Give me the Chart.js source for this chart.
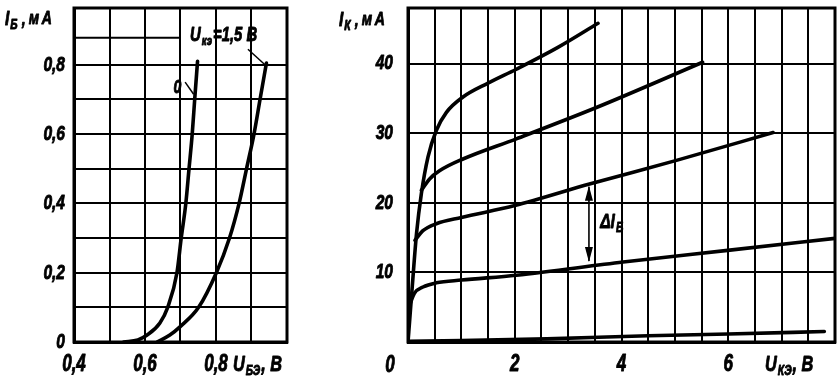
<!DOCTYPE html>
<html>
<head>
<meta charset="utf-8">
<script src="https://cdn.jsdelivr.net/npm/chart.js@4/dist/chart.umd.min.js"></script>
<style>
  html,body{margin:0;padding:0;background:#fff;}
  #wrap{position:relative;width:839px;height:381px;overflow:hidden;background:#fff;}
  #c1{position:absolute;left:0;top:0;}
  #c2{position:absolute;left:335px;top:0;}
</style>
</head>
<body>
<div id="wrap">
  <canvas id="c1" width="300" height="381"></canvas>
  <canvas id="c2" width="504" height="381"></canvas>
</div>
<script>
// ---------- Left chart: input characteristics I_Б(U_БЭ) ----------
const inX_0   = [0.54, 0.58, 0.606, 0.642, 0.664, 0.69, 0.702, 0.715, 0.724, 0.733, 0.74, 0.748];
const inY_0   = [0.0, 0.006, 0.02, 0.055, 0.1, 0.2, 0.3, 0.4, 0.5, 0.6, 0.7, 0.81];
const inX_15  = [0.634, 0.67, 0.7, 0.751, 0.801, 0.838, 0.865, 0.886, 0.907, 0.924, 0.942];
const inY_15  = [0.0, 0.02, 0.045, 0.1, 0.2, 0.3, 0.4, 0.5, 0.6, 0.7, 0.805];
const inXTicks = [0.4, 0.6, 0.8];
const inYTicks = [0, 0.2, 0.4, 0.6, 0.8];

// ---------- Right chart: output characteristics I_К(U_КЭ) ----------
const outX_a = [0, 0.03, 0.08, 0.16, 0.25, 0.375, 0.53, 0.72, 1.03, 1.5, 2.03, 2.8, 3.56];
const outY_a = [0, 3, 8, 15.6, 21.3, 26.6, 30.4, 33.0, 35.2, 37.2, 39.2, 42.3, 45.8];
const outX_b = [0.25, 0.4, 0.59, 1.03, 2.03, 3.53, 5.52];
const outY_b = [21.8, 23.4, 24.6, 26.3, 29.2, 33.7, 40.2];
const outX_c = [0.13, 0.28, 0.53, 1.0, 2.0, 3.4, 5.03, 6.84];
const outY_c = [14.6, 16.0, 17.0, 17.9, 19.6, 22.7, 26.1, 30.1];
const outX_d = [0.04, 0.12, 0.28, 0.53, 1.0, 2.03, 4.03, 6.03, 8.0];
const outY_d = [5.5, 7.0, 7.9, 8.5, 8.9, 9.6, 11.5, 13.2, 14.9];
const outX_e = [0, 1, 2.6, 4.5, 6, 7.8];
const outY_e = [0.1, 0.2, 0.45, 0.9, 1.15, 1.5];
const outXTicks = [2, 4, 6];
const outYTicks = [10, 20, 30, 40];
const deltaArrow = {x: 3.39, yTop: 22.6, yBottom: 11.35};

const SX = 0.74; // horizontal condensing of the lettering
const FONT_FAM = '"Liberation Sans", Arial, sans-serif';
const yTickFont = {family: FONT_FAM, size: 21, style: 'italic', weight: 'bold'};
const xTickFont = {family: FONT_FAM, size: 23, style: 'italic', weight: 'bold'};

// narrow, heavy lettering: every fillText on these canvases is condensed around its anchor point
function narrow(canvas){
  const ctx = canvas.getContext('2d');
  const origFill = ctx.fillText, origStroke = ctx.strokeText;
  ctx.fillText = function(t, x, y){
    this.save(); this.translate(x, y); this.scale(SX, 1);
    origFill.call(this, t, 0, 0);
    this.strokeStyle = this.fillStyle; this.lineWidth = 0.9; this.lineJoin = 'round';
    origStroke.call(this, t, 0, 0);
    this.restore();
  };
}
narrow(document.getElementById('c1'));
narrow(document.getElementById('c2'));

function pts(xs, ys){ return xs.map((x,i)=>({x:x, y:ys[i]})); }
function near(v, arr){ return arr.some(a => Math.abs(a - v) < 1e-6); }
function fmt(v){ return (Math.round(v*10)/10).toString().replace('.', ','); }

function lineDs(xs, ys){
  return {data: pts(xs, ys), borderColor:'#000', borderWidth:3.6, pointRadius:0,
          fill:false, cubicInterpolationMode:'monotone', borderCapStyle:'round', borderJoinStyle:'round'};
}

function fixScale(size, horizontal){
  return function(s){
    if (horizontal) s.height = size; else s.width = size;
    s.paddingTop = 0; s.paddingBottom = 0; s.paddingLeft = 0; s.paddingRight = 0;
  };
}

function setFont(ctx, size){ ctx.font = 'italic bold ' + size + 'px ' + FONT_FAM; }
function w(ctx, t){ return ctx.measureText(t).width * SX; }

// text with a subscript; returns end x
function textSub(ctx, x, y, main, sub, rest, big, small, gap){
  gap = gap || 2;
  setFont(ctx, big);
  ctx.fillText(main, x, y);
  x += w(ctx, main) + 1;
  if (sub){
    setFont(ctx, small);
    ctx.fillText(sub, x, y + 4);
    x += w(ctx, sub) + gap;
  }
  if (rest){
    setFont(ctx, big);
    ctx.fillText(rest, x, y);
    x += w(ctx, rest);
  }
  return x;
}

function frame(chart){
  const a = chart.chartArea, ctx = chart.ctx;
  ctx.save();
  ctx.strokeStyle = '#000'; ctx.lineWidth = 3;
  ctx.strokeRect(a.left, a.top, a.right - a.left, a.bottom - a.top);
  ctx.restore();
}

// y-axis title like "I_Б , мА"
function yTitle(ctx, x, y, sub){
  let e = textSub(ctx, x, y, 'I', sub, '', 21, 14, 0);
  setFont(ctx, 19);
  ctx.fillText(',', e + 2, y);
  ctx.fillText('м', e + 9, y - 1);
  ctx.fillText('А', e + 22, y - 1);
}

// ---------- Left chart ----------
const leftPlugin = {
  id: 'leftAnnot',
  beforeDatasetsDraw(chart){
    // short extra rule of the printed grid in the upper-left part
    const ctx = chart.ctx, xs = chart.scales.x, ys = chart.scales.y;
    ctx.save(); ctx.strokeStyle = '#000'; ctx.lineWidth = 2;
    ctx.beginPath();
    ctx.moveTo(xs.getPixelForValue(0.4), ys.getPixelForValue(0.878));
    ctx.lineTo(xs.getPixelForValue(0.7), ys.getPixelForValue(0.878));
    ctx.stroke(); ctx.restore();
  },
  afterDatasetsDraw(chart){
    const ctx = chart.ctx, xs = chart.scales.x, ys = chart.scales.y;
    frame(chart);
    ctx.save();
    ctx.fillStyle = '#000'; ctx.strokeStyle = '#000'; ctx.textBaseline = 'alphabetic'; ctx.textAlign = 'left';
    // axis titles
    yTitle(ctx, 5, 25, 'Б');
    textSub(ctx, 233, 371, 'U', 'БЭ', ', В', 22, 14, 1);
    // curve labels
    setFont(ctx, 19);
    ctx.fillText('0', xs.getPixelForValue(0.68), ys.getPixelForValue(0.72));
    ctx.lineWidth = 1.5;
    ctx.beginPath();
    ctx.moveTo(xs.getPixelForValue(0.713), ys.getPixelForValue(0.75));
    ctx.lineTo(xs.getPixelForValue(0.737), ys.getPixelForValue(0.715));
    ctx.stroke();
    textSub(ctx, xs.getPixelForValue(0.727), ys.getPixelForValue(0.87), 'U', 'кэ', '=1,5 В', 20, 13, 1);
    ctx.beginPath();
    ctx.moveTo(xs.getPixelForValue(0.89), ys.getPixelForValue(0.845));
    ctx.lineTo(xs.getPixelForValue(0.938), ys.getPixelForValue(0.80));
    ctx.stroke();
    ctx.restore();
  }
};

new Chart(document.getElementById('c1'), {
  type: 'line',
  data: { datasets: [lineDs(inX_0, inY_0), lineDs(inX_15, inY_15)] },
  options: {
    responsive: false, animation: false, devicePixelRatio: 1,
    layout: {padding: {top: 8, right: 13, left: 0, bottom: 0}},
    plugins: {legend: {display:false}, tooltip: {enabled:false}},
    scales: {
      x: {type:'linear', min:0.4, max:1.0,
          afterFit: fixScale(39, true),
          grid: {color:'#000', lineWidth:2, drawTicks:false},
          border: {display:true, color:'#000', width:3},
          ticks: {stepSize:0.1, padding:9, color:'#000', font:xTickFont, maxRotation:0, autoSkip:false,
                  callback: v => near(v, inXTicks) ? fmt(v) : ''}},
      y: {type:'linear', min:0, max:0.964,
          afterFit: fixScale(74, false),
          grid: {color:'#000', lineWidth:2, drawTicks:false},
          border: {display:true, color:'#000', width:3},
          ticks: {stepSize:0.1, padding:9, color:'#000', font:yTickFont, autoSkip:false,
                  callback: v => near(v, inYTicks) ? fmt(v) : ''}}
    }
  },
  plugins: [leftPlugin]
});

// ---------- Right chart ----------
const rightPlugin = {
  id: 'rightAnnot',
  afterDatasetsDraw(chart){
    const ctx = chart.ctx, xs = chart.scales.x, ys = chart.scales.y;
    frame(chart);
    ctx.save();
    ctx.fillStyle = '#000'; ctx.strokeStyle = '#000'; ctx.textAlign = 'left'; ctx.textBaseline = 'alphabetic';
    // axis titles
    yTitle(ctx, 4, 26, 'К');
    textSub(ctx, 430, 371, 'U', 'КЭ', ', В', 22, 14, 1);
    // origin label
    setFont(ctx, 23);
    ctx.textAlign = 'center';
    ctx.fillText('0', 55, 372);
    ctx.textAlign = 'left';
    // delta arrow
    const ax = xs.getPixelForValue(deltaArrow.x);
    const y1 = ys.getPixelForValue(deltaArrow.yTop), y2 = ys.getPixelForValue(deltaArrow.yBottom);
    ctx.lineWidth = 1.6;
    ctx.beginPath(); ctx.moveTo(ax, y1 + 2); ctx.lineTo(ax, y2 - 2); ctx.stroke();
    ctx.beginPath(); ctx.moveTo(ax, y1 + 1); ctx.lineTo(ax - 4, y1 + 16); ctx.lineTo(ax + 4, y1 + 16); ctx.closePath(); ctx.fill();
    ctx.beginPath(); ctx.moveTo(ax, y2 - 1); ctx.lineTo(ax - 4, y2 - 16); ctx.lineTo(ax + 4, y2 - 16); ctx.closePath(); ctx.fill();
    textSub(ctx, xs.getPixelForValue(3.6), ys.getPixelForValue(16.4), 'ΔI', 'Б', '', 21, 14);
    ctx.restore();
  }
};

new Chart(document.getElementById('c2'), {
  type: 'line',
  data: { datasets: [lineDs(outX_a, outY_a), lineDs(outX_b, outY_b), lineDs(outX_c, outY_c),
                     lineDs(outX_d, outY_d), lineDs(outX_e, outY_e)] },
  options: {
    responsive: false, animation: false, devicePixelRatio: 1,
    layout: {padding: {top: 8, right: 4, left: 0, bottom: 0}},
    plugins: {legend: {display:false}, tooltip: {enabled:false}},
    scales: {
      x: {type:'linear', min:0, max:8,
          afterFit: fixScale(39, true),
          grid: {color:'#000', lineWidth:2, drawTicks:false},
          border: {display:true, color:'#000', width:3},
          ticks: {stepSize:0.5, padding:9, color:'#000', font:xTickFont, maxRotation:0, autoSkip:false,
                  callback: v => near(v, outXTicks) ? String(v) : ''}},
      y: {type:'linear', min:0, max:48,
          afterFit: fixScale(73, false),
          grid: {color:'#000', lineWidth:2, drawTicks:false},
          border: {display:true, color:'#000', width:3},
          ticks: {stepSize:10, padding:15, color:'#000', font:yTickFont, autoSkip:false,
                  callback: v => near(v, outYTicks) ? String(v) : ''}}
    }
  },
  plugins: [rightPlugin]
});
</script>
</body>
</html>
